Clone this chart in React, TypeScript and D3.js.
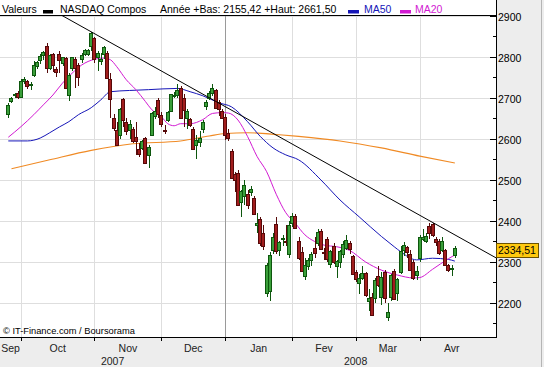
import React from 'react';
import * as d3 from 'd3';

const WIDTH = 544;
const HEIGHT = 367;
const plot = { left: 0, right: 496, top: 15, bottom: 337 };
const FONT = '"Liberation Sans", Arial, sans-serif';

const dates = [
  '2007-09-25', '2007-09-26', '2007-09-27', '2007-09-28',
  '2007-10-01', '2007-10-02', '2007-10-03', '2007-10-04', '2007-10-05', '2007-10-08', '2007-10-09', '2007-10-10',
  '2007-10-11', '2007-10-12', '2007-10-15', '2007-10-16', '2007-10-17', '2007-10-18', '2007-10-19', '2007-10-22',
  '2007-10-23', '2007-10-24', '2007-10-25', '2007-10-26', '2007-10-29', '2007-10-30', '2007-10-31',
  '2007-11-01', '2007-11-02', '2007-11-05', '2007-11-06', '2007-11-07', '2007-11-08', '2007-11-09', '2007-11-12',
  '2007-11-13', '2007-11-14', '2007-11-15', '2007-11-16', '2007-11-19', '2007-11-20', '2007-11-21', '2007-11-23',
  '2007-11-26', '2007-11-27', '2007-11-28', '2007-11-29', '2007-11-30',
  '2007-12-03', '2007-12-04', '2007-12-05', '2007-12-06', '2007-12-07', '2007-12-10', '2007-12-11', '2007-12-12',
  '2007-12-13', '2007-12-14', '2007-12-17', '2007-12-18', '2007-12-19', '2007-12-20', '2007-12-21', '2007-12-24',
  '2007-12-26', '2007-12-27', '2007-12-28', '2007-12-31',
  '2008-01-02', '2008-01-03', '2008-01-04', '2008-01-07', '2008-01-08', '2008-01-09', '2008-01-10', '2008-01-11',
  '2008-01-14', '2008-01-15', '2008-01-16', '2008-01-17', '2008-01-18', '2008-01-22', '2008-01-23', '2008-01-24',
  '2008-01-25', '2008-01-28', '2008-01-29', '2008-01-30', '2008-01-31',
  '2008-02-01', '2008-02-04', '2008-02-05', '2008-02-06', '2008-02-07', '2008-02-08', '2008-02-11', '2008-02-12',
  '2008-02-13', '2008-02-14', '2008-02-15', '2008-02-19', '2008-02-20', '2008-02-21', '2008-02-22', '2008-02-25',
  '2008-02-26', '2008-02-27', '2008-02-28', '2008-02-29',
  '2008-03-03', '2008-03-04', '2008-03-05', '2008-03-06', '2008-03-07', '2008-03-10', '2008-03-11', '2008-03-12',
  '2008-03-13', '2008-03-14', '2008-03-17', '2008-03-18', '2008-03-19', '2008-03-20', '2008-03-24', '2008-03-25',
  '2008-03-26', '2008-03-27', '2008-03-28', '2008-03-31',
  '2008-04-01', '2008-04-02', '2008-04-03', '2008-04-04', '2008-04-07', '2008-04-08', '2008-04-09', '2008-04-10',
  '2008-04-11', '2008-04-14', '2008-04-15', '2008-04-16',
];

const opens = [
  2660, 2692, 2707, 2713,
  2703, 2741, 2740, 2731, 2755, 2777, 2792, 2805, 2826, 2774, 2806, 2770, 2808, 2784, 2797, 2706, 2772, 2795, 2779, 2795, 2808, 2808, 2826,
  2845, 2800, 2790, 2806, 2810, 2745, 2652, 2622, 2610, 2697, 2640, 2622, 2625, 2605, 2575, 2578, 2601, 2560, 2610, 2655, 2695,
  2658, 2622, 2645, 2668, 2704, 2707, 2725, 2700, 2650, 2648, 2625, 2585, 2592, 2625, 2680, 2700, 2712, 2718, 2690, 2668,
  2653, 2615, 2571, 2514, 2518, 2445, 2460, 2465, 2470, 2455, 2390, 2405, 2370, 2225, 2228, 2330, 2392, 2330, 2355, 2352, 2320,
  2395, 2413, 2350, 2325, 2265, 2290, 2305, 2335, 2345, 2375, 2325, 2355, 2295, 2340, 2290, 2300, 2320, 2335, 2346, 2315,
  2276, 2248, 2262, 2273, 2205, 2215, 2212, 2265, 2215, 2276, 2165, 2215, 2278, 2225, 2275, 2330, 2336, 2320, 2300, 2268,
  2310, 2355, 2350, 2388, 2392, 2355, 2352, 2330, 2328, 2292, 2283, 2316,
];

const highs = [
  2688, 2703, 2713, 2716,
  2746, 2750, 2744, 2738, 2790, 2790, 2806, 2815, 2834, 2808, 2810, 2776, 2815, 2800, 2800, 2760, 2800, 2800, 2785, 2810, 2818, 2820, 2861,
  2848, 2815, 2810, 2827, 2815, 2760, 2660, 2640, 2675, 2700, 2650, 2645, 2630, 2640, 2590, 2597, 2605, 2585, 2665, 2678, 2700,
  2665, 2635, 2668, 2710, 2715, 2735, 2730, 2710, 2672, 2652, 2628, 2610, 2620, 2645, 2695, 2716, 2735, 2722, 2695, 2672,
  2661.5, 2625, 2575, 2520, 2525, 2475, 2500, 2475, 2485, 2460, 2420, 2410, 2390, 2298, 2325, 2370, 2410, 2352, 2365, 2390, 2400,
  2420, 2418, 2360, 2336, 2310, 2310, 2325, 2360, 2380, 2380, 2335, 2360, 2330, 2345, 2305, 2330, 2350, 2365, 2350, 2318,
  2280, 2270, 2290, 2275, 2235, 2225, 2262, 2290, 2275, 2280, 2200, 2270, 2282, 2260, 2340, 2348, 2340, 2330, 2305, 2290,
  2365, 2380, 2370, 2395, 2396, 2360, 2356, 2360, 2332, 2296, 2292, 2340,
];

const lows = [
  2652, 2688, 2700, 2697,
  2699, 2733, 2722, 2718, 2750, 2770, 2782, 2793, 2760, 2768, 2762, 2750, 2760, 2778, 2722, 2692, 2765, 2725, 2730, 2785, 2803, 2803, 2815,
  2785, 2765, 2780, 2795, 2745, 2652, 2620, 2582, 2600, 2630, 2610, 2600, 2590, 2560, 2555, 2572, 2540, 2530, 2608, 2648, 2650,
  2630, 2612, 2640, 2665, 2700, 2700, 2650, 2630, 2625, 2630, 2572, 2550, 2580, 2615, 2670, 2695, 2705, 2675, 2655, 2650,
  2597, 2595, 2502, 2470, 2440, 2410, 2440, 2430, 2460, 2415, 2370, 2340, 2330, 2215, 2205, 2320, 2320, 2315, 2340, 2340, 2310,
  2385, 2380, 2305, 2275, 2255, 2280, 2290, 2310, 2340, 2330, 2305, 2300, 2285, 2295, 2260, 2285, 2310, 2330, 2320, 2268,
  2250, 2221, 2255, 2215, 2180, 2168, 2200, 2240, 2195, 2200, 2155.42, 2205, 2207, 2205, 2270, 2315, 2310, 2278, 2255, 2255,
  2300, 2350, 2345, 2355, 2362, 2340, 2318, 2325, 2290, 2276, 2265, 2310,
];

const closes = [
  2683, 2699, 2709, 2701,
  2740, 2747, 2729, 2733, 2780, 2787, 2803, 2811, 2772, 2805, 2780, 2763, 2792, 2799, 2725, 2755, 2799, 2774, 2750, 2804, 2817, 2816, 2859,
  2794, 2810, 2795, 2825, 2749, 2697, 2627, 2584, 2673, 2645, 2619, 2637, 2594, 2596, 2562, 2596, 2541, 2581, 2663, 2668, 2661,
  2637, 2619, 2666, 2709, 2707, 2718, 2652, 2671, 2668, 2635, 2575, 2597, 2601, 2640, 2691, 2713, 2724, 2676, 2674, 2652,
  2609, 2602, 2504, 2499, 2440, 2474, 2488, 2439, 2478, 2417, 2394, 2346, 2340, 2292, 2316, 2360, 2326, 2349, 2358, 2349, 2389,
  2413, 2382, 2309, 2278, 2293, 2304, 2320, 2321, 2373, 2332, 2321, 2306, 2327, 2300, 2303, 2327, 2344, 2353, 2331, 2271,
  2259, 2260, 2272, 2220, 2212, 2170, 2255, 2243, 2263, 2212, 2177, 2268, 2209, 2258, 2326, 2341, 2324, 2280, 2261, 2279,
  2362, 2361, 2363, 2371, 2365, 2349, 2322, 2352, 2293, 2280, 2286, 2334.51,
];

// moving averages
const ma50Dates = [
  '2007-09-25', '2007-10-03', '2007-10-09', '2007-10-12', '2007-10-17', '2007-10-22', '2007-10-25', '2007-10-31',
  '2007-11-05', '2007-11-08', '2007-11-16', '2007-11-27', '2007-12-10', '2007-12-14', '2007-12-20', '2007-12-28',
  '2008-01-04', '2008-01-11', '2008-01-17', '2008-01-24', '2008-01-30', '2008-02-05', '2008-02-14', '2008-02-25',
  '2008-03-04', '2008-03-13', '2008-03-19', '2008-03-24', '2008-03-31', '2008-04-07', '2008-04-14', '2008-04-16',
];
const ma50Values = [
  2595, 2595, 2602, 2615, 2629, 2642, 2659, 2676,
  2695, 2715, 2718, 2720, 2723, 2715, 2705, 2688,
  2678, 2642, 2606, 2578, 2561, 2549, 2500, 2451,
  2410, 2362, 2337, 2325, 2305, 2309, 2306, 2302,
];

const ma20Dates = [
  '2007-09-25', '2007-10-01', '2007-10-05', '2007-10-10', '2007-10-15', '2007-10-18', '2007-10-23', '2007-10-26',
  '2007-11-01', '2007-11-06', '2007-11-08', '2007-11-12', '2007-11-15', '2007-11-20', '2007-11-26', '2007-11-28',
  '2007-12-03', '2007-12-05', '2007-12-07', '2007-12-11', '2007-12-14', '2007-12-20', '2007-12-26', '2007-12-31',
  '2008-01-03', '2008-01-08', '2008-01-11', '2008-01-16', '2008-01-22', '2008-01-25', '2008-01-30', '2008-02-04',
  '2008-02-07', '2008-02-12', '2008-02-15', '2008-02-22', '2008-02-28', '2008-03-06', '2008-03-13', '2008-03-20',
  '2008-03-28', '2008-04-01', '2008-04-07', '2008-04-14', '2008-04-16',
];
const ma20Values = [
  2604, 2630, 2659, 2683, 2707, 2736, 2760, 2780,
  2794, 2797, 2793, 2776, 2744, 2720, 2691, 2671,
  2654, 2637, 2632, 2637, 2637, 2647, 2662, 2664,
  2663, 2646, 2606, 2557, 2520, 2465, 2420, 2394,
  2366, 2350, 2341, 2337, 2328, 2300, 2280, 2268,
  2261, 2262, 2282, 2308, 2317,
];

const maLongDates = [
  '2007-09-26', '2007-10-12', '2007-10-31', '2007-11-19', '2007-12-11', '2007-12-24', '2008-01-02', '2008-01-11',
  '2008-01-28', '2008-02-05', '2008-02-25', '2008-03-13', '2008-04-01', '2008-04-16',
];
const maLongValues = [2527, 2549, 2572, 2588, 2595, 2607, 2613, 2615, 2610, 2606, 2595, 2578, 2558, 2541];

const trendDates = ['2007-10-31', '2008-04-16'];
const trendValues = [2861, 2366];

const yTicks = [2200, 2300, 2400, 2500, 2600, 2700, 2800, 2900];
const yMinorTicks = [2150, 2250, 2350, 2450, 2550, 2650, 2750, 2850];
const monthNames = ['Sep', 'Oct', 'Nov', 'Dec', 'Jan', 'Fev', 'Mar', 'Avr'];
const yearNames = ['2007', '2008'];
const seriesName = 'NASDAQ Compos';

const UP = '#3a9f3a', UP_EDGE = '#0d560d';
const DOWN = '#a11d1d', DOWN_EDGE = '#560909';

const fmt = (v: number) => v.toFixed(2).replace('.', ',');

export default function App() {
  const x = d3.scaleLinear().domain([-2.6, 152.9]).range([plot.left, plot.right]);
  const y = d3.scaleLinear().domain([2117, 2902]).range([plot.bottom, plot.top]);
  const pos = (d: string) => dates.indexOf(d);

  const curve = d3.line<[number, number]>()
    .x(d => x(d[0]))
    .y(d => y(d[1]))
    .curve(d3.curveMonotoneX);
  const pts = (ds: string[], vs: number[]) => ds.map((d, i) => [pos(d), vs[i]] as [number, number]);

  // month boundaries (first trading day of each month)
  const monthStarts: number[] = [];
  dates.forEach((d, i) => {
    if (i > 0 && d.slice(5, 7) !== dates[i - 1].slice(5, 7)) monthStarts.push(i);
  });
  const bounds = [plot.left, ...monthStarts.map(i => x(i))];
  const monthX = monthNames.map((m, k) => {
    const l = bounds[k];
    const r = k + 1 < bounds.length ? bounds[k + 1] : l + (l - bounds[k - 1]);
    return (l + r) / 2;
  });
  const janIdx = monthStarts.find(i => dates[i].slice(5, 7) === '01')!;
  const year1X = (plot.left + x(janIdx)) / 2;
  const year2X = d3.mean(monthX.slice(4))!;

  // trend line extended across the plot
  const p0 = pos(trendDates[0]), p1 = pos(trendDates[1]);
  const slope = (trendValues[1] - trendValues[0]) / (p1 - p0);
  const [d0, d1] = x.domain();
  const trendAt = (i: number) => trendValues[0] + (i - p0) * slope;

  const y2008 = dates.map((d, i) => i).filter(i => dates[i].startsWith('2008'));
  const yearLow = d3.min(y2008, i => lows[i])!;
  const yearHigh = d3.max(y2008, i => highs[i])!;
  const last = closes[closes.length - 1];

  const crisp = (v: number) => Math.round(v) + 0.5;

  return (
    <svg width={WIDTH} height={HEIGHT} style={{ position: 'absolute', left: 0, top: 0 }} fontFamily={FONT}>
      <defs>
        <clipPath id="plotClip">
          <rect x={plot.left} y={plot.top} width={plot.right - plot.left} height={plot.bottom - plot.top} />
        </clipPath>
      </defs>
      <rect x={0} y={0} width={WIDTH} height={HEIGHT} fill="#ededed" />
      <rect x={0} y={0} width={plot.right} height={plot.bottom} fill="#ffffff" />
      <line x1={541.5} x2={541.5} y1={0} y2={HEIGHT} stroke="#b5b5b5" />

      {/* grid */}
      {yTicks.map(t => (
        <line key={t} x1={plot.left} x2={plot.right} y1={crisp(y(t))} y2={crisp(y(t))} stroke="#dedede" />
      ))}
      {monthStarts.map(i => (
        <line key={i} x1={crisp(x(i))} x2={crisp(x(i))} y1={plot.top} y2={plot.bottom}
          stroke={i === janIdx ? '#9a9a9a' : '#dedede'} />
      ))}

      <g clipPath="url(#plotClip)">
        <path d={curve(pts(maLongDates, maLongValues))!} fill="none" stroke="#f08a24" strokeWidth={1.1} />
        <path d={curve(pts(ma50Dates, ma50Values))!} fill="none" stroke="#1616b8" strokeWidth={1} />
        <path d={curve(pts(ma20Dates, ma20Values))!} fill="none" stroke="#d21ad2" strokeWidth={1} />

        {dates.map((d, i) => {
          const up = closes[i] >= opens[i];
          const cx = Math.round(x(i));
          const top = Math.round(y(Math.max(opens[i], closes[i])));
          const bot = Math.round(y(Math.min(opens[i], closes[i])));
          return (
            <g key={d}>
              <line x1={cx + 0.5} x2={cx + 0.5} y1={Math.round(y(highs[i]))} y2={Math.round(y(lows[i]))}
                stroke={up ? UP_EDGE : DOWN_EDGE} />
              <rect x={cx - 1.5} y={top + 0.5} width={3} height={Math.max(1, bot - top)}
                fill={up ? UP : DOWN} stroke={up ? UP_EDGE : DOWN_EDGE} />
            </g>
          );
        })}

        <line x1={x(d0)} y1={y(trendAt(d0))} x2={x(d1)} y2={y(trendAt(d1))} stroke="#000" strokeWidth={1} />
      </g>

      {/* frame */}
      <line x1={plot.left} x2={plot.right} y1={plot.top + 0.5} y2={plot.top + 0.5} stroke="#000" />
      <line x1={plot.left} x2={plot.right + 1} y1={plot.bottom + 0.5} y2={plot.bottom + 0.5} stroke="#000" />
      <line x1={plot.right + 0.5} x2={plot.right + 0.5} y1={0} y2={plot.bottom + 1} stroke="#000" />

      {/* y axis */}
      {yTicks.map(t => (
        <g key={t}>
          <line x1={plot.right - 6} x2={plot.right} y1={crisp(y(t))} y2={crisp(y(t))} stroke="#000" />
          <text x={plot.right + 2} y={Math.round(y(t)) + 5} fontSize={10.5} fill="#000">{t}</text>
        </g>
      ))}
      {yMinorTicks.map(t => (
        <line key={t} x1={plot.right - 3} x2={plot.right} y1={crisp(y(t))} y2={crisp(y(t))} stroke="#000" />
      ))}

      {/* x axis */}
      {monthStarts.map(i => (
        <line key={i} x1={crisp(x(i))} x2={crisp(x(i))} y1={plot.bottom} y2={plot.bottom + 4} stroke="#000" />
      ))}
      {monthNames.map((m, k) => (
        <text key={m} x={monthX[k]} y={352} fontSize={10.5} textAnchor="middle" fill="#222">{m}</text>
      ))}
      <text x={year1X} y={365} fontSize={10.5} textAnchor="middle" fill="#222">{yearNames[0]}</text>
      <text x={year2X} y={365} fontSize={10.5} textAnchor="middle" fill="#222">{yearNames[1]}</text>

      {/* last value */}
      <rect x={plot.right + 0.5} y={Math.round(y(last)) - 4.5} width={42} height={14} fill="#ffc90e" stroke="#6b5200" />
      <text x={plot.right + 2} y={Math.round(y(last)) + 6} fontSize={10.5} fill="#000">{fmt(last)}</text>

      {/* header */}
      <text x={2} y={13} fontSize={10.5} fill="#000">Valeurs</text>
      <rect x={43} y={10} width={10} height={3.5} fill="#000" />
      <text x={60} y={13} fontSize={10.5} fill="#000">{seriesName}</text>
      <text x={160} y={13} fontSize={10.5} fill="#000">
        {`Année +Bas: ${fmt(yearLow)} +Haut: ${fmt(yearHigh)}`}
      </text>
      <rect x={348} y={10} width={11} height={3.5} fill="#1616b8" />
      <text x={364} y={13} fontSize={10.5} fill="#1616b8">MA50</text>
      <rect x={400} y={10} width={11} height={3.5} fill="#d21ad2" />
      <text x={415} y={13} fontSize={10.5} fill="#d21ad2">MA20</text>

      <text x={3} y={334} fontSize={9.3} fill="#000">© IT-Finance.com / Boursorama</text>
    </svg>
  );
}
